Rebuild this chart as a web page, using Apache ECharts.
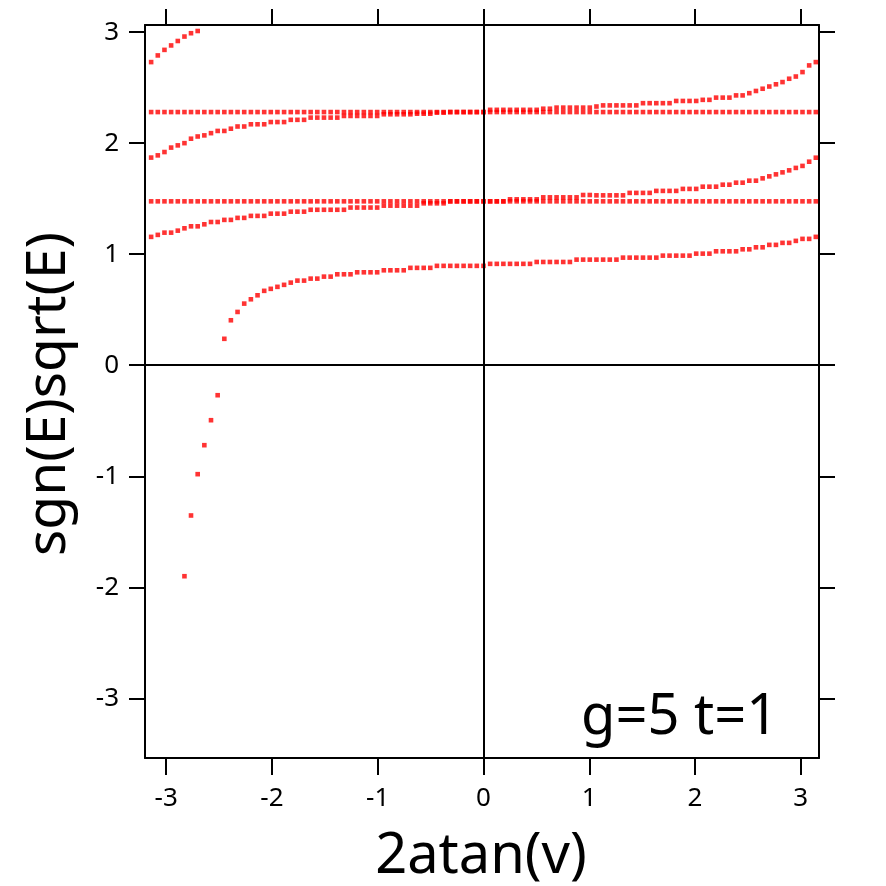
<!DOCTYPE html>
<html>
<head>
<meta charset="utf-8">
<script src="https://cdn.jsdelivr.net/npm/echarts@6/dist/echarts.min.js"></script>
<style>
html,body{margin:0;padding:0;background:#fff;}
#chart{width:886px;height:886px;}
</style>
</head>
<body>
<div id="chart"></div>
<script>
// x = 2atan(v), sampled grid
const xGrid = [
-3.142,-3.079,-3.016,-2.953,-2.890,-2.827,-2.765,-2.702,-2.639,-2.576,
-2.513,-2.450,-2.388,-2.325,-2.262,-2.199,-2.136,-2.073,-2.011,-1.948,
-1.885,-1.822,-1.759,-1.696,-1.634,-1.571,-1.508,-1.445,-1.382,-1.319,
-1.257,-1.194,-1.131,-1.068,-1.005,-0.942,-0.880,-0.817,-0.754,-0.691,
-0.628,-0.565,-0.503,-0.440,-0.377,-0.314,-0.251,-0.188,-0.126,-0.063,
0,
0.063,0.126,0.188,0.251,0.314,0.377,0.440,0.503,0.565,0.628,
0.691,0.754,0.817,0.880,0.942,1.005,1.068,1.131,1.194,1.257,
1.319,1.382,1.445,1.508,1.571,1.634,1.696,1.759,1.822,1.885,
1.948,2.011,2.073,2.136,2.199,2.262,2.325,2.388,2.450,2.513,
2.576,2.639,2.702,2.765,2.827,2.890,2.953,3.016,3.079,3.142
];

// flat level near 2.28 (starts at grid index 0)
const flatHigh = [
2.28,2.28,2.28,2.28,2.28,2.28,2.28,2.28,2.28,2.28,
2.28,2.28,2.28,2.28,2.28,2.28,2.28,2.28,2.28,2.28,
2.28,2.28,2.28,2.28,2.28,2.28,2.28,2.28,2.28,2.28,
2.28,2.28,2.28,2.28,2.28,2.28,2.28,2.28,2.28,2.28,
2.28,2.28,2.28,2.28,2.28,2.28,2.28,2.28,2.28,2.28,
2.28,
2.28,2.28,2.28,2.28,2.28,2.28,2.28,2.28,2.28,2.28,
2.28,2.28,2.28,2.28,2.28,2.28,2.28,2.28,2.28,2.28,
2.28,2.28,2.28,2.28,2.28,2.28,2.28,2.28,2.28,2.28,
2.28,2.28,2.28,2.28,2.28,2.28,2.28,2.28,2.28,2.28,
2.28,2.28,2.28,2.28,2.28,2.28,2.28,2.28,2.28,2.28
];

// flat level near 1.476 (starts at grid index 0)
const flatLow = [
1.476,1.476,1.476,1.476,1.476,1.476,1.476,1.476,1.476,1.476,
1.476,1.476,1.476,1.476,1.476,1.476,1.476,1.476,1.476,1.476,
1.476,1.476,1.476,1.476,1.476,1.476,1.476,1.476,1.476,1.476,
1.476,1.476,1.476,1.476,1.476,1.476,1.476,1.476,1.476,1.476,
1.476,1.476,1.476,1.476,1.476,1.476,1.476,1.476,1.476,1.476,
1.476,
1.476,1.476,1.476,1.476,1.476,1.476,1.476,1.476,1.476,1.476,
1.476,1.476,1.476,1.476,1.476,1.476,1.476,1.476,1.476,1.476,
1.476,1.476,1.476,1.476,1.476,1.476,1.476,1.476,1.476,1.476,
1.476,1.476,1.476,1.476,1.476,1.476,1.476,1.476,1.476,1.476,
1.476,1.476,1.476,1.476,1.476,1.476,1.476,1.476,1.476,1.476
];

// top band fragment (starts at grid index 0)
const bandTop = [2.73,2.79,2.84,2.88,2.92,2.96,2.99,3.01];

// upper curved band (starts at grid index 0)
const bandUpper = [
1.87,1.89,1.92,1.96,1.98,2.00,2.04,2.06,2.07,2.09,
2.11,2.11,2.13,2.15,2.15,2.17,2.17,2.17,2.19,2.19,
2.19,2.21,2.21,2.21,2.23,2.23,2.23,2.23,2.23,2.245,
2.245,2.245,2.245,2.245,2.245,2.26,2.26,2.26,2.26,2.26,
2.265,2.265,2.265,2.275,2.275,2.28,2.28,2.28,2.28,2.28,
2.28,
2.30,2.30,2.30,2.30,2.30,2.30,2.30,2.30,2.31,2.31,
2.32,2.32,2.32,2.32,2.32,2.32,2.33,2.34,2.34,2.34,
2.34,2.34,2.34,2.36,2.36,2.36,2.36,2.36,2.38,2.38,
2.38,2.38,2.39,2.39,2.41,2.41,2.41,2.43,2.43,2.45,
2.47,2.49,2.51,2.53,2.55,2.58,2.60,2.64,2.70,2.73
];

// middle curved band (starts at grid index 0)
const bandMiddle = [
1.156,1.174,1.194,1.194,1.212,1.233,1.251,1.251,1.269,1.29,
1.29,1.309,1.309,1.327,1.327,1.345,1.345,1.345,1.365,1.365,
1.365,1.383,1.383,1.383,1.40,1.40,1.40,1.40,1.40,1.40,
1.42,1.42,1.42,1.42,1.42,1.437,1.437,1.437,1.437,1.437,
1.437,1.458,1.458,1.458,1.458,1.476,1.476,1.476,1.476,1.476,
1.476,
1.476,1.476,1.476,1.494,1.494,1.494,1.494,1.494,1.512,1.512,
1.512,1.512,1.512,1.512,1.533,1.533,1.53,1.53,1.53,1.53,
1.53,1.552,1.552,1.552,1.552,1.57,1.57,1.57,1.57,1.588,
1.588,1.588,1.608,1.608,1.608,1.626,1.626,1.644,1.644,1.662,
1.662,1.683,1.701,1.719,1.737,1.755,1.777,1.795,1.833,1.869
];

// lowest band (starts at grid index 5)
const bandLowerStart = 5;
const bandLower = [
-1.90,-1.353,-0.981,-0.72,-0.495,-0.27,
0.238,0.405,0.48,0.555,0.594,0.63,0.67,0.688,0.706,0.724,
0.744,0.762,0.762,0.78,0.78,0.798,0.798,0.819,0.819,0.819,
0.837,0.837,0.837,0.837,0.855,0.855,0.855,0.855,0.877,0.877,
0.877,0.877,0.895,0.895,0.895,0.895,0.895,0.895,0.895,0.895,
0.913,0.913,0.913,0.913,0.913,0.913,0.913,0.93,0.93,0.93,
0.93,0.93,0.93,0.951,0.951,0.951,0.951,0.951,0.951,0.951,
0.969,0.969,0.969,0.969,0.969,0.969,0.987,0.987,0.987,0.987,
0.987,1.005,1.005,1.005,1.026,1.026,1.026,1.026,1.044,1.044,
1.062,1.062,1.084,1.084,1.102,1.102,1.12,1.138,1.138,1.156
];

const tickValues = [-3,-2,-1,0,1,2,3];
const xRange = [-3.2, 3.172];
const yRange = [-3.537, 3.064];

function pts(ys, start) {
  return ys.map((y, i) => [xGrid[start + i], y]);
}

const chart = echarts.init(document.getElementById('chart'), null, {renderer: 'canvas'});
const FONT = 'Noto Sans';
const axisLineStyle = {color: '#000', width: 2};
function mkX(pos, labels, tickLen) {
  return {
    type: 'value', position: pos, min: xRange[0], max: xRange[1],
    axisLine: {show: true, onZero: false, lineStyle: axisLineStyle},
    axisTick: {show: true, inside: false, length: tickLen, lineStyle: axisLineStyle, customValues: tickValues},
    axisLabel: {show: labels, customValues: tickValues, fontFamily: FONT, fontSize: 26, color: '#000', margin: 28},
    splitLine: {show: false}
  };
}
function mkY(pos, labels) {
  return {
    type: 'value', position: pos, min: yRange[0], max: yRange[1],
    axisLine: {show: true, onZero: false, lineStyle: axisLineStyle},
    axisTick: {show: true, inside: false, length: 16, lineStyle: axisLineStyle, customValues: tickValues},
    axisLabel: {show: labels, customValues: tickValues, fontFamily: FONT, fontSize: 26, color: '#000', margin: 26},
    splitLine: {show: false}
  };
}
const dotStyle = {type: 'scatter', symbol: 'rect', symbolSize: 4.6, itemStyle: {color: '#ff0000'}, silent: true};

const option = {
  animation: false,
  backgroundColor: '#fff',
  grid: {left: 145, top: 25, width: 674, height: 733, containLabel: false},
  xAxis: [mkX('bottom', true, 17), mkX('top', false, 16)],
  yAxis: [mkY('left', true), mkY('right', false)],
  series: [
    Object.assign({name: 'flatHigh', data: pts(flatHigh, 0),
      markLine: {silent: true, symbol: 'none', label: {show: false},
        lineStyle: {color: '#000', width: 2, type: 'solid'},
        data: [{xAxis: 0}, {yAxis: 0}]}}, dotStyle),
    Object.assign({name: 'flatLow', data: pts(flatLow, 0)}, dotStyle),
    Object.assign({name: 'bandTop', data: pts(bandTop, 0)}, dotStyle),
    Object.assign({name: 'bandUpper', data: pts(bandUpper, 0)}, dotStyle),
    Object.assign({name: 'bandMiddle', data: pts(bandMiddle, 0)}, dotStyle),
    Object.assign({name: 'bandLower', data: pts(bandLower, bandLowerStart)}, dotStyle)
  ],
  graphic: [
    {type: 'text', x: 481, y: 857, style: {text: '2atan(v)', fontFamily: FONT, fontSize: 56, fill: '#000', align: 'center', verticalAlign: 'middle'}},
    {type: 'text', x: 49, y: 394, rotation: Math.PI / 2, style: {text: 'sgn(E)sqrt(E)', fontFamily: FONT, fontSize: 55, fill: '#000', align: 'center', verticalAlign: 'middle'}},
    {type: 'text', x: 581, y: 718, style: {text: 'g=5 t=1', fontFamily: FONT, fontSize: 56, fill: '#000', align: 'left', verticalAlign: 'middle'}}
  ]
};
chart.setOption(option);
</script>
</body>
</html>
